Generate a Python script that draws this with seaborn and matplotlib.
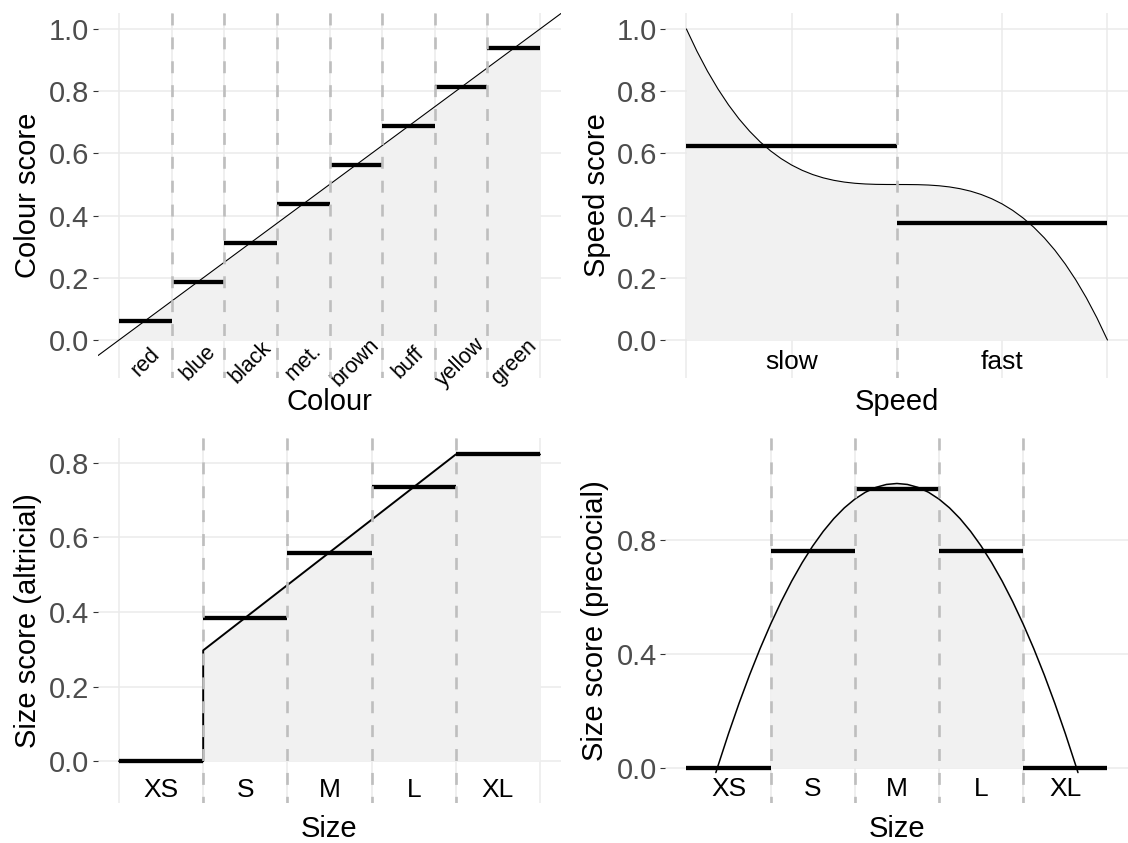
import matplotlib
matplotlib.use("Agg")
import matplotlib.pyplot as plt
import numpy as np
import pandas as pd
import seaborn as sns

# ---------------------------------------------------------------- data
colour_levels = ["red", "blue", "black", "met.", "brown", "buff", "yellow", "green"]
colour_scores = [0.0625, 0.1875, 0.3125, 0.4375, 0.5625, 0.6875, 0.8125, 0.9375]
colour_line_x = [-0.05, 1.05]
colour_line_y = [-0.05, 1.05]

speed_levels = ["slow", "fast"]
speed_scores = [0.625, 0.375]
speed_curve_x = [0.000, 0.025, 0.050, 0.075, 0.100, 0.125, 0.150, 0.175, 0.200, 0.225,
                 0.250, 0.275, 0.300, 0.325, 0.350, 0.375, 0.400, 0.425, 0.450, 0.475,
                 0.500, 0.525, 0.550, 0.575, 0.600, 0.625, 0.650, 0.675, 0.700, 0.725,
                 0.750, 0.775, 0.800, 0.825, 0.850, 0.875, 0.900, 0.925, 0.950, 0.975,
                 1.000]
speed_curve_y = [1.0000, 0.9287, 0.8645, 0.8071, 0.7560, 0.7109, 0.6715, 0.6373, 0.6080, 0.5832,
                 0.5625, 0.5456, 0.5320, 0.5214, 0.5135, 0.5078, 0.5040, 0.5017, 0.5005, 0.5001,
                 0.5000, 0.4999, 0.4995, 0.4983, 0.4960, 0.4922, 0.4865, 0.4786, 0.4680, 0.4544,
                 0.4375, 0.4168, 0.3920, 0.3627, 0.3285, 0.2891, 0.2440, 0.1929, 0.1355, 0.0713,
                 0.0000]

size_levels = ["XS", "S", "M", "L", "XL"]
altricial_scores = [0.0, 0.384, 0.559, 0.734, 0.822]
altricial_line_x = [0.0, 0.2, 0.2, 0.8, 1.0]
altricial_line_y = [0.0, 0.0, 0.297, 0.822, 0.822]

precocial_scores = [0.0, 0.764, 0.982, 0.764, 0.0]
precocial_curve_x = [0.070, 0.075, 0.100, 0.125, 0.150, 0.175, 0.200, 0.225, 0.250, 0.275,
                     0.300, 0.325, 0.350, 0.375, 0.400, 0.425, 0.450, 0.475, 0.500, 0.525,
                     0.550, 0.575, 0.600, 0.625, 0.650, 0.675, 0.700, 0.725, 0.750, 0.775,
                     0.800, 0.825, 0.850, 0.875, 0.900, 0.925, 0.930]
precocial_curve_y = [-0.017, 0.0066, 0.1200, 0.2266, 0.3263, 0.4191, 0.5050, 0.5841, 0.6563, 0.7216,
                     0.7800, 0.8316, 0.8763, 0.9141, 0.9450, 0.9691, 0.9863, 0.9966, 1.0000, 0.9966,
                     0.9863, 0.9691, 0.9450, 0.9141, 0.8763, 0.8316, 0.7800, 0.7216, 0.6563, 0.5841,
                     0.5050, 0.4191, 0.3263, 0.2266, 0.1200, 0.0066, -0.017]

# ---------------------------------------------------------------- style
sns.set_theme(style="white")
plt.rcParams["font.family"] = ["Liberation Sans", "DejaVu Sans"]
plt.rcParams["lines.scale_dashes"] = False

GRID = "#EBEBEB"
FILL = "#F1F1F1"
DASH = "#BEBEBE"
TICKTXT = "#4D4D4D"
FS = 21          # axis titles and tick labels
FS_LEVEL = 19    # category names inside the panels
FS_ROT = 15.5    # rotated colour names

W, H = 1128, 843
fig = plt.figure(figsize=(W / 100, H / 100), dpi=100)


def make_axes(left, top, right, bottom):
    return fig.add_axes([left / W, 1 - bottom / H, (right - left) / W, (bottom - top) / H])


ax1 = make_axes(97.95, 12.5, 561.05, 378.3)
ax2 = make_axes(665.35, 12.5, 1128.5, 378.3)
ax3 = make_axes(97.95, 438.0, 561.05, 803.0)
ax4 = make_axes(665.35, 438.0, 1128.5, 803.0)


def style_axes(ax, ylim, yticks, ylabels, xgrid, ylabel, xlabel, xlab_y, ylab_x):
    ax.set_xlim(-0.05, 1.05)
    ax.set_ylim(*ylim)
    for s in ax.spines.values():
        s.set_visible(False)
    ax.set_xticks(xgrid)
    ax.set_xticklabels([])
    ax.set_yticks(yticks)
    ax.set_yticklabels(ylabels)
    ax.tick_params(axis="x", length=0)
    ax.tick_params(axis="y", length=3.6, width=0.8, color="#333333", pad=2.5,
                   labelsize=FS, labelcolor=TICKTXT, left=True)
    ax.grid(True, color=GRID, linewidth=1.1)
    ax.set_axisbelow(True)
    ax.set_xlabel(xlabel, fontsize=FS, color="black")
    ax.set_ylabel(ylabel, fontsize=FS, color="black")
    ax.xaxis.set_label_coords(0.5, xlab_y)
    ax.xaxis.label.set_va("baseline")
    ax.yaxis.set_label_coords(ylab_x, 0.5)
    ax.yaxis.label.set_va("baseline")


def boundaries(ax, n):
    for i in range(1, n):
        ax.plot([i / n, i / n], [1, 0], transform=ax.get_xaxis_transform(),
                color=DASH, lw=1.9, linestyle=(0, (8.6, 8.6)), zorder=5,
                solid_capstyle="butt", dash_capstyle="butt")


def segments(ax, scores):
    n = len(scores)
    left = [i / n for i in range(n)]
    right = [(i + 1) / n for i in range(n)]
    ax.hlines(scores, left, right, colors="black", lw=3.1, zorder=4, capstyle="butt")


def level_labels(ax, levels, y, **kw):
    n = len(levels)
    for i, lab in enumerate(levels):
        ax.text((i + 0.5) / n, y, lab, ha="center", va="center", color="black", **kw)


# ---------------------------------------------------------------- colour
cl = pd.DataFrame({"x": colour_line_x, "y": colour_line_y})
ax1.fill_between(np.clip(cl["x"], 0, 1), np.clip(cl["y"], 0, 1), 0, color=FILL, lw=0, zorder=1)
sns.lineplot(data=cl, x="x", y="y", ax=ax1, color="black", lw=0.8, estimator=None,
             sort=False, zorder=3)
segments(ax1, colour_scores)
boundaries(ax1, len(colour_levels))
level_labels(ax1, colour_levels, -0.072, rotation=45, fontsize=FS_ROT)
style_axes(ax1, (-0.123, 1.053), [0, 0.2, 0.4, 0.6, 0.8, 1.0],
           ["0.0", "0.2", "0.4", "0.6", "0.8", "1.0"],
           [i / 8 for i in range(9)], "Colour score", "Colour", -0.0867, -0.134)

# ---------------------------------------------------------------- speed
sp = pd.DataFrame({"x": speed_curve_x, "y": speed_curve_y})
ax2.fill_between(sp["x"], sp["y"], 0, color=FILL, lw=0, zorder=1)
sns.lineplot(data=sp, x="x", y="y", ax=ax2, color="black", lw=0.8, estimator=None,
             sort=False, zorder=3)
segments(ax2, speed_scores)
boundaries(ax2, len(speed_levels))
level_labels(ax2, speed_levels, -0.072, fontsize=FS_LEVEL)
style_axes(ax2, (-0.123, 1.053), [0, 0.2, 0.4, 0.6, 0.8, 1.0],
           ["0.0", "0.2", "0.4", "0.6", "0.8", "1.0"],
           [0, 0.25, 0.5, 0.75, 1.0], "Speed score", "Speed", -0.0867, -0.131)

# ---------------------------------------------------------------- size (altricial)
al = pd.DataFrame({"x": altricial_line_x, "y": altricial_line_y})
af = al[al["y"] > 0]
ax3.fill_between(af["x"], af["y"], 0, color=FILL, lw=0, zorder=1)
sns.lineplot(data=al, x="x", y="y", ax=ax3, color="black", lw=1.4, estimator=None,
             sort=False, zorder=3)
segments(ax3, altricial_scores)
boundaries(ax3, len(size_levels))
level_labels(ax3, size_levels, -0.077, fontsize=FS_LEVEL)
style_axes(ax3, (-0.112, 0.866), [0, 0.2, 0.4, 0.6, 0.8],
           ["0.0", "0.2", "0.4", "0.6", "0.8"],
           [0, 0.2, 0.4, 0.6, 0.8, 1.0], "Size score (altricial)", "Size", -0.0923, -0.134)

# ---------------------------------------------------------------- size (precocial)
pc = pd.DataFrame({"x": precocial_curve_x, "y": precocial_curve_y})
pf = pc[(pc["x"] >= 0.2) & (pc["x"] <= 0.8)]
ax4.fill_between(pf["x"], pf["y"], 0, color=FILL, lw=0, zorder=1)
sns.lineplot(data=pc, x="x", y="y", ax=ax4, color="black", lw=1.1, estimator=None,
             sort=False, zorder=3)
segments(ax4, precocial_scores)
boundaries(ax4, len(size_levels))
level_labels(ax4, size_levels, -0.076, fontsize=FS_LEVEL)
style_axes(ax4, (-0.124, 1.160), [0, 0.4, 0.8], ["0.0", "0.4", "0.8"],
           [0.2, 0.4, 0.6, 0.8], "Size score (precocial)", "Size", -0.0923, -0.134)

fig.savefig("out.png", dpi=100)
